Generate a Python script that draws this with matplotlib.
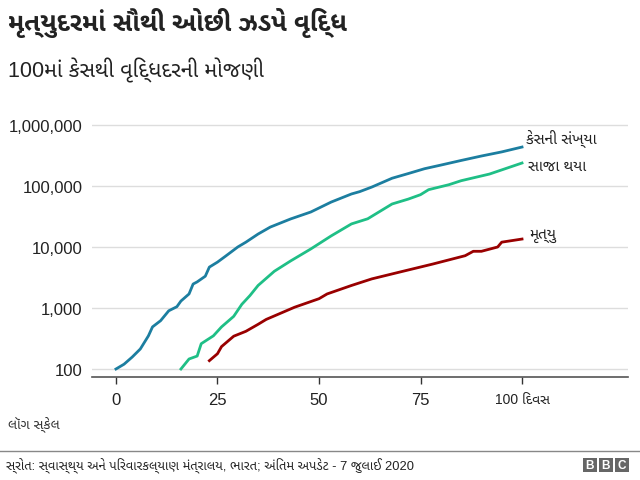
import matplotlib
matplotlib.use("Agg")
import matplotlib.pyplot as plt
from matplotlib import font_manager
from matplotlib.patches import Rectangle

# ---- Gujarati font: register the installed Noto / Mukta files ----
guj_family = None
for want in ['NotoSansGujarati-', 'NotoSansGujaratiUI-', 'MuktaVaani-', 'HindVadodara-']:
    hits = [p for p in font_manager.findSystemFonts() if p.split('/')[-1].startswith(want)]
    if hits:
        for p in hits:
            font_manager.fontManager.addfont(p)
        guj_family = font_manager.FontProperties(fname=hits[0]).get_name()
        break

plt.rcParams['font.family'] = ['Liberation Sans'] + ([guj_family] if guj_family else []) + ['DejaVu Sans']

GU_CONS = set(range(0x0A95, 0x0AB9 + 1))


def gu(s):
    # matplotlib does no Indic shaping: move the pre-base vowel sign i in front of its cluster
    out = list(s)
    i = 0
    while i < len(out):
        if out[i] == '\u0abf':
            j = i - 1
            while j >= 2 and out[j - 1] == '\u0acd' and ord(out[j - 2]) in GU_CONS:
                j -= 2
            out.pop(i)
            out.insert(j, '\u0abf')
        i += 1
    return ''.join(out)


# ---- data (days since 100th case) ----
case_days = [0, 2, 4, 6, 8, 9, 11, 13, 15, 16, 18, 19, 20, 22, 23, 25, 27, 30, 32, 35,
             38, 43, 48, 53, 58, 60, 63, 68, 72, 76, 80, 85, 90, 95, 100]
cases = [100, 120, 157, 213, 350, 490, 620, 900, 1050, 1300, 1700, 2470, 2680, 3320,
         4680, 5650, 7080, 10000, 12000, 16300, 21200, 28800, 37500, 54500, 74000,
         80700, 96000, 134000, 160000, 192000, 220000, 262000, 310000, 362000, 435000]

rec_days = [16, 18, 20, 21, 24, 26, 29, 31, 33, 35, 39, 43, 48, 53, 58, 62, 68, 72,
            75, 77, 82, 85, 92, 100]
recovered = [100, 146, 163, 260, 350, 490, 730, 1150, 1600, 2340, 4000, 5900, 9300,
             15200, 23900, 29000, 50700, 61000, 72000, 87000, 105000, 122000,
             157000, 238000]

death_days = [23, 25, 26, 29, 32, 35, 37, 44, 50, 52, 58, 63, 70, 78, 86, 88, 90, 94,
              95, 100]
deaths = [137, 178, 233, 345, 415, 540, 650, 1030, 1420, 1700, 2340, 3000, 3900, 5250,
          7200, 8500, 8500, 10000, 12000, 13500]

series_labels = ['કેસની સંખ્યા', 'સાજા થયા', 'મૃત્યુ']
x_ticks = [0, 25, 50, 75, 100]
x_ticklabels = ['0', '25', '50', '75', '100 દિવસ']
y_ticks = [100, 1000, 10000, 100000, 1000000]
y_ticklabels = ['100', '1,000', '10,000', '100,000', '1,000,000']

title = 'મૃત્યુદરમાં સૌથી ઓછી ઝડપે વૃદ્ધિ'
subtitle = '100માં કેસથી વૃદ્ધિદરની મોજણી'
scale_note = 'લૉગ સ્કેલ'
source = 'સ્રોત: સ્વાસ્થ્ય અને પરિવારકલ્યાણ મંત્રાલય, ભારત; અંતિમ અપડેટ - 7 જુલાઈ 2020'

BLUE = '#1c7ea0'
GREEN = '#1fbf86'
RED = '#990000'

fig = plt.figure(figsize=(6.4, 4.81), dpi=100)
ax = fig.add_axes([92 / 640, 1 - 378 / 481, 536 / 640, 263 / 481])

ax.plot(case_days, cases, color=BLUE, lw=2)
ax.plot(rec_days, recovered, color=GREEN, lw=2)
ax.plot(death_days, deaths, color=RED, lw=2)

ax.set_yscale('log')
ax.set_ylim(10 ** 1.869, 10 ** 6.18)
ax.set_xlim(-5.9, 126.1)

ax.set_yticks(y_ticks)
ax.set_yticklabels(y_ticklabels)
ax.yaxis.set_minor_locator(matplotlib.ticker.NullLocator())
ax.set_xticks(x_ticks)
ax.set_xticklabels([gu(t) for t in x_ticklabels])
ax.tick_params(axis='y', length=0, pad=7, labelsize=12, labelcolor='#222222')
ax.tick_params(axis='x', length=5, width=1, color='#333333', pad=6, labelsize=12,
               labelcolor='#222222')
ax.get_xticklabels()[-1].set_fontsize(10)
ax.grid(axis='y', color='#dddddd', lw=1)
ax.set_axisbelow(True)
for s in ['top', 'right', 'left']:
    ax.spines[s].set_visible(False)
ax.spines['bottom'].set_color('#555555')
ax.spines['bottom'].set_linewidth(1.2)

# end labels
ax.annotate(gu(series_labels[0]), (case_days[-1], cases[-1]), xytext=(3, 3),
            textcoords='offset points', fontsize=11, color='#222222')
ax.annotate(gu(series_labels[1]), (rec_days[-1], recovered[-1]), xytext=(4, -5),
            textcoords='offset points', fontsize=11, color='#222222')
ax.annotate(gu(series_labels[2]), (death_days[-1], deaths[-1]), xytext=(5, 1),
            textcoords='offset points', fontsize=11, color='#222222')

# titles and footer
fig.text(8 / 640, 1 - 23 / 481, gu(title), fontsize=18.5, fontweight='bold',
         va='center', color='#222222')
fig.text(8 / 640, 1 - 70 / 481, gu(subtitle), fontsize=15.5, va='center', color='#222222')
fig.text(8 / 640, 1 - 424 / 481, gu(scale_note), fontsize=10, va='center', color='#333333')

fig.add_artist(plt.Line2D([0, 1], [1 - 452 / 481] * 2, color='#888888', lw=1))
fig.text(6 / 640, 1 - 466 / 481, gu(source), fontsize=9.3, va='center', color='#222222')

# BBC blocks
for i, ch in enumerate('BBC'):
    x0 = (583 + i * 16) / 640
    fig.add_artist(Rectangle((x0, 1 - 473 / 481), 14 / 640, 14 / 481,
                             transform=fig.transFigure, color='#666666', lw=0))
    fig.text(x0 + 7 / 640, 1 - 466 / 481, ch, fontsize=8.5, fontweight='bold',
             color='white', ha='center', va='center', family='Liberation Sans')

fig.savefig('out.png', dpi=100)
